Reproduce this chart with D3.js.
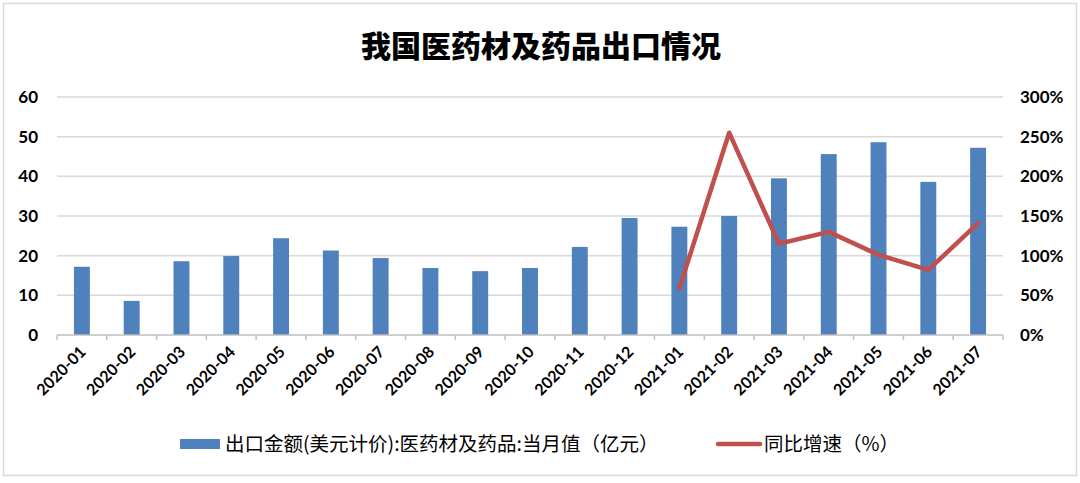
<!DOCTYPE html>
<html>
<head>
<meta charset="utf-8">
<script src="https://cdn.jsdelivr.net/npm/d3@7"></script>
<style>
  body { margin: 0; background: #fff; }
  svg { display: block; }
</style>
</head>
<body>
<div id="chart"></div>
<script>
// data
var months = ["2020-01","2020-02","2020-03","2020-04","2020-05","2020-06","2020-07","2020-08","2020-09","2020-10",
              "2020-11","2020-12","2021-01","2021-02","2021-03","2021-04","2021-05","2021-06","2021-07"];
var exportValue = [17.2, 8.6, 18.6, 19.9, 24.4, 21.3, 19.4, 16.9, 16.1, 16.9,
                   22.2, 29.5, 27.3, 30.0, 39.5, 45.6, 48.6, 38.6, 47.2];
var growthMonths = ["2021-01","2021-02","2021-03","2021-04","2021-05","2021-06","2021-07"];
var growthRate = [59, 255, 115, 130, 101, 82, 141];
var leftTicks = [0, 10, 20, 30, 40, 50, 60];
var rightTicks = [0, 50, 100, 150, 200, 250, 300];

var W = 1080, H = 483;
var margin = {top: 97, right: 77, bottom: 148, left: 57},
    width = W - margin.left - margin.right,
    height = H - margin.top - margin.bottom;

var root = d3.select("#chart").append("svg")
    .attr("width", W)
    .attr("height", H);

// outer frame
root.append("rect")
    .attr("x", 3.5).attr("y", 3.5)
    .attr("width", W - 7).attr("height", H - 11)
    .attr("fill", "#fff")
    .attr("stroke", "#d9d9d9")
    .attr("stroke-width", 1.5);

root.append("text")
    .attr("x", 541)
    .attr("y", 57)
    .attr("text-anchor", "middle")
    .style("font-family", "'Noto Sans CJK SC'")
    .style("font-weight", 900)
    .style("font-size", "30px")
    .text("我国医药材及药品出口情况");

var svg = root.append("g")
    .attr("transform", "translate(" + margin.left + "," + margin.top + ")");

var x = d3.scaleBand()
    .domain(months)
    .range([0, width])
    .paddingInner(0.68)
    .paddingOuter(0.34);

var xb = d3.scaleBand().domain(months).range([0, width]);

var y = d3.scaleLinear().domain([0, 60]).range([height, 0]);
var y2 = d3.scaleLinear().domain([0, 300]).range([height, 0]);

var tickFont = "Lato, 'Liberation Sans', sans-serif";

// gridlines
svg.append("g")
    .selectAll("line")
    .data(leftTicks.slice(1))
    .enter().append("line")
    .attr("x1", 0).attr("x2", width)
    .attr("y1", function(d) { return y(d); })
    .attr("y2", function(d) { return y(d); })
    .attr("stroke", "#d9d9d9")
    .attr("stroke-width", 1.5);

// bars
svg.append("g")
    .selectAll("rect")
    .data(exportValue)
    .enter().append("rect")
    .attr("x", function(d, i) { return x(months[i]); })
    .attr("width", x.bandwidth())
    .attr("y", function(d) { return y(d); })
    .attr("height", function(d) { return height - y(d); })
    .attr("fill", "#4f81bd");

// x axis
var xAxis = svg.append("g")
    .attr("transform", "translate(0," + height + ")");
xAxis.append("line")
    .attr("x1", 0).attr("x2", width)
    .attr("stroke", "#bfbfbf").attr("stroke-width", 1.5);
xAxis.selectAll(".tk")
    .data(months.concat(["end"]))
    .enter().append("line")
    .attr("x1", function(d, i) { return i * xb.step(); })
    .attr("x2", function(d, i) { return i * xb.step(); })
    .attr("y1", 0).attr("y2", 5)
    .attr("stroke", "#bfbfbf").attr("stroke-width", 1.5);
xAxis.selectAll("text")
    .data(months)
    .enter().append("text")
    .attr("transform", function(d) {
        return "translate(" + (xb(d) + xb.bandwidth() / 2 + 1) + ",14) rotate(-45)";
    })
    .attr("text-anchor", "end")
    .attr("dy", "0.35em")
    .style("font-family", tickFont)
    .style("font-weight", 700)
    .style("font-size", "16px")
    .text(function(d) { return d; });

// left axis labels
svg.append("g")
    .selectAll("text")
    .data(leftTicks)
    .enter().append("text")
    .attr("x", -19)
    .attr("y", function(d) { return y(d); })
    .attr("dy", "0.35em")
    .attr("text-anchor", "end")
    .style("font-family", tickFont)
    .style("font-weight", 700)
    .style("font-size", "17px")
    .text(function(d) { return d; });

// right axis labels
svg.append("g")
    .selectAll("text")
    .data(rightTicks)
    .enter().append("text")
    .attr("x", width + 17)
    .attr("y", function(d) { return y2(d); })
    .attr("dy", "0.35em")
    .attr("text-anchor", "start")
    .style("font-family", tickFont)
    .style("font-weight", 700)
    .style("font-size", "17px")
    .text(function(d) { return d + "%"; });

// growth line
var line = d3.line()
    .x(function(d, i) { return xb(growthMonths[i]) + xb.bandwidth() / 2; })
    .y(function(d) { return y2(d); });

svg.append("path")
    .datum(growthRate)
    .attr("d", line)
    .attr("fill", "none")
    .attr("stroke", "#c0504d")
    .attr("stroke-width", 4.5)
    .attr("stroke-linejoin", "round")
    .attr("stroke-linecap", "round");

// legend
var legend = root.append("g").attr("transform", "translate(0,444)");
legend.append("rect")
    .attr("x", 180).attr("y", -5)
    .attr("width", 40).attr("height", 10)
    .attr("fill", "#4f81bd");
legend.append("text")
    .attr("x", 225).attr("dy", "0.35em")
    .style("font-family", "'Noto Sans CJK SC'")
    .style("font-size", "19.5px")
    .text("出口金额(美元计价):医药材及药品:当月值（亿元）");
legend.append("line")
    .attr("x1", 718).attr("x2", 760)
    .attr("stroke", "#c0504d").attr("stroke-width", 4.5)
    .attr("stroke-linecap", "round");
legend.append("text")
    .attr("x", 764).attr("dy", "0.35em")
    .style("font-family", "'Noto Sans CJK SC'")
    .style("font-size", "19.5px")
    .text("同比增速（%）");
</script>
</body>
</html>
